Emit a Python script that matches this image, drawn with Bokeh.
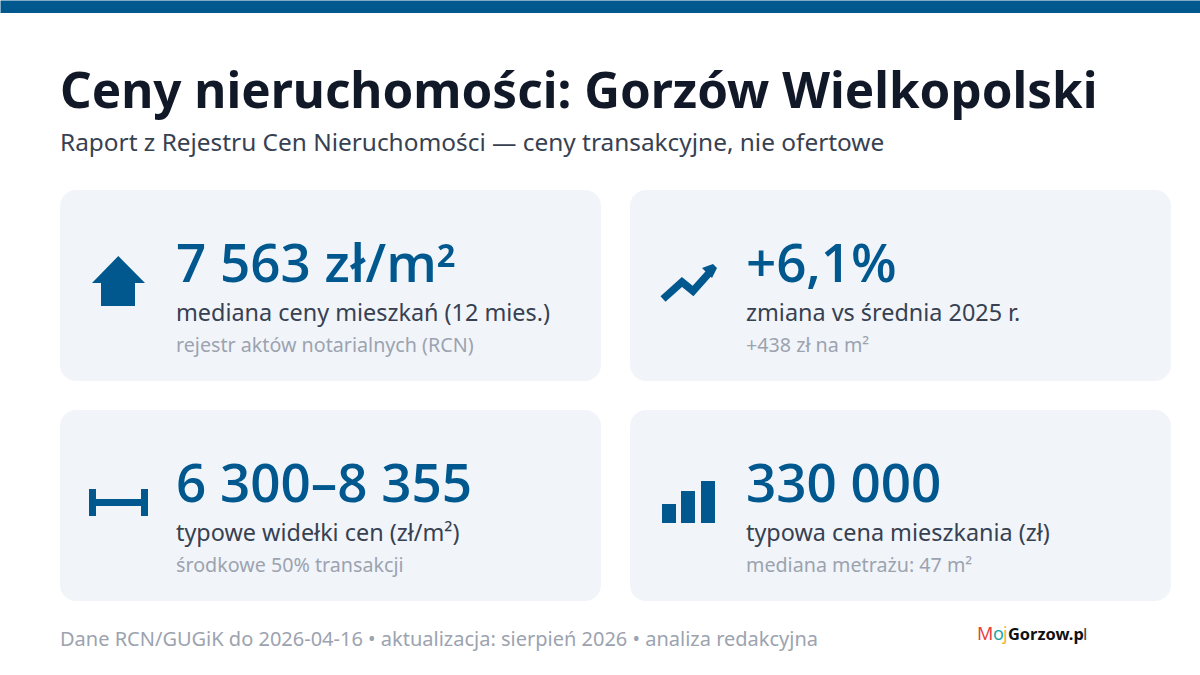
from bokeh.plotting import figure
from bokeh.models import Range1d
from bokeh.core.properties import value
from bokeh.embed import file_html
from bokeh.resources import INLINE

TITLE = "Ceny nieruchomości: Gorzów Wielkopolski"
SUBTITLE = "Raport z Rejestru Cen Nieruchomości — ceny transakcyjne, nie ofertowe"
FOOTER = "Dane RCN/GUGiK do 2026-04-16 • aktualizacja: sierpień 2026 • analiza redakcyjna"
kpi_values = ["7 563 zł/m²", "+6,1%", "6 300–8 355", "330 000"]
kpi_labels = ["mediana ceny mieszkań (12 mies.)", "zmiana vs średnia 2025 r.",
              "typowe widełki cen (zł/m²)", "typowa cena mieszkania (zł)"]
kpi_notes = ["rejestr aktów notarialnych (RCN)", "+438 zł na m²",
             "środkowe 50% transakcji", "mediana metrażu: 47 m²"]
icon_bar_heights = [19, 32, 42]

BLUE = "#00588f"
CARD = "#f1f5fa"
FONT = "Noto Sans"
SEMI = "Open Sans SemiBold"

p = figure(width=1200, height=675, output_backend="svg", toolbar_location=None,
           x_range=Range1d(0.5, 1200.5), y_range=Range1d(675.5, 0.5),
           min_border=0, outline_line_color=None, background_fill_color="white",
           border_fill_color="white", tools="")
p.axis.visible = False
p.grid.visible = False
p.styles = {"position": "absolute", "left": "0", "top": "0"}


def label(x, y, text, size, color, style="normal", font=FONT):
    p.text([x], [y + 0.5 - 0.42 * size], text=[text], text_font=value(font), text_font_size=f"{size}px",
           text_color=color, text_font_style=style, text_baseline="alphabetic", text_align="left")


p.quad(left=[0], right=[1202], top=[0], bottom=[13], fill_color=BLUE, line_color=None)
label(60, 109, TITLE, 49.4, "#111827", "bold")
label(60, 151, SUBTITLE, 24.4, "#374151")

card_x = [60, 630, 60, 630]
card_y = [190, 190, 410, 410]
p.quad(left=card_x, right=[x + 541 for x in card_x], top=card_y, bottom=[y + 191 for y in card_y],
       fill_color=CARD, line_color=None, border_radius=16)

for i in range(4):
    tx = card_x[i] + 116
    y0 = card_y[i]
    label(tx, y0 + 93, kpi_values[i], 53, BLUE, font=SEMI)
    label(tx, y0 + 131, kpi_labels[i], 23.4, "#374151")
    label(tx, y0 + 162, kpi_notes[i], 19.7, "#9ca3af")

# house
p.patch([118.3, 92, 101, 101, 135, 135, 145, 118.3], [256, 283, 283, 306, 306, 283, 283, 256],
        fill_color=BLUE, line_color=None)
# trend
p.line([663, 682, 693, 710], [299, 282, 291, 272], line_color=BLUE, line_width=7.5, line_join="miter")
p.patch([702, 713, 717, 712], [268, 264, 268, 278], fill_color=BLUE, line_color=None)
# range
p.quad(left=[89, 141, 96], right=[96, 148, 141], top=[489, 489, 499], bottom=[516, 516, 506],
       fill_color=BLUE, line_color=None)
# bars
bx = [662, 681, 701]
p.quad(left=bx, right=[x + 14 for x in bx], top=[523 - h for h in icon_bar_heights],
       bottom=[523] * 3, fill_color=BLUE, line_color=None)

label(60, 646, FOOTER, 20, "#9ca3af")

# logo
label(977, 640, "M", 18, "#e8423f")
label(993, 640, "o", 18, "#1fa3a8")
label(1003, 640, "j", 18, "#f2b632")
label(1008, 640, "Gorzow.p", 16.4, "#111111", "bold")
label(1083, 640, "l", 17, "#444444")

open("out.html", "w").write(file_html(p, INLINE))
